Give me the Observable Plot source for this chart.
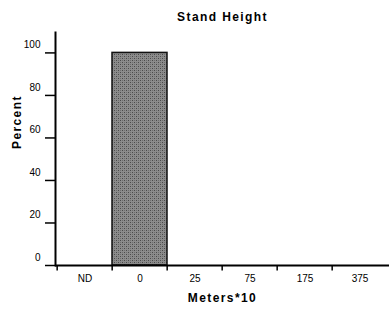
<!DOCTYPE html>
<html><head><meta charset="utf-8">
<script src="https://cdn.jsdelivr.net/npm/d3@7"></script>
<script src="https://cdn.jsdelivr.net/npm/@observablehq/plot@0.6"></script>
<style>
body{margin:0;background:#fff;}
svg{font-family:"Liberation Sans",Arial,sans-serif;}
</style></head>
<body><div id="chart"></div>
<script>
const categories = ["ND","0","25","75","175","375"];
const percents = [0,100,0,0,0,0];
const yTicks = [0,20,40,60,80,100];
const title = "Stand Height";
const xLabel = "Meters*10";
const yLabel = "Percent";

const data = categories.map((c,i)=>({cat:c, pct:percents[i]}));
const W = 389, H = 318, mL = 55, mR = 0;
const bw = (W - mL - mR) / categories.length;

const plot = Plot.plot({
  width: W, height: H,
  marginLeft: mL, marginRight: mR, marginTop: 32, marginBottom: 53,
  style: {fontFamily: "Liberation Sans, Arial, sans-serif", fontSize: "10px", color: "#000", background: "#fff"},
  x: {domain: categories, padding: 0, axis: null},
  y: {domain: [0, 109.6], axis: null},
  marks: [
    Plot.barY(data.filter(d=>d.pct>0), {x: "cat", y: "pct", fill: "url(#dotpat)", stroke: "#111", strokeWidth: 1.5, inset: 0}),
    Plot.axisY({ticks: yTicks, tickSize: 10, tickFormat: () => "", label: null, strokeWidth: 1.5}),
    Plot.axisY({ticks: yTicks, tickSize: 0, tickPadding: 15, dy: -8, label: null, fontSize: 10}),
    Plot.axisX({tickSize: 0, tickPadding: 9, label: null, fontSize: 10}),
    Plot.ruleX(categories, {x: d=>d, y1: 0, y2: -2.6, dx: -bw/2, stroke: "#000", strokeWidth: 1.5}),
    Plot.frame({anchor: "left", stroke: "#000", strokeWidth: 2}),
    Plot.ruleY([0], {stroke: "#000", strokeWidth: 2}),
    Plot.text([title], {frameAnchor: "top", dy: -20, text: d=>d, fontWeight: "bold", fontSize: 12, fill: "#000"}),
    Plot.text([xLabel], {frameAnchor: "bottom", dy: 36, text: d=>d, fontWeight: "bold", fontSize: 12, fill: "#000"}),
    Plot.text([yLabel], {frameAnchor: "left", dx: -38, rotate: -90, text: d=>d, fontWeight: "bold", fontSize: 12, fill: "#000"})
  ]
});

const ns = "http://www.w3.org/2000/svg";
const defs = document.createElementNS(ns, "defs");
defs.innerHTML = '<pattern id="dotpat" width="4" height="4" patternUnits="userSpaceOnUse">' +
  '<rect width="4" height="4" fill="#8c8c8c"/>' +
  '<rect x="0" y="0" width="1" height="1" fill="#4a4a4a"/>' +
  '<rect x="2" y="2" width="1" height="1" fill="#4a4a4a"/>' +
  '<rect x="2" y="0" width="1" height="1" fill="#6e6e6e"/>' +
  '<rect x="0" y="2" width="1" height="1" fill="#6e6e6e"/></pattern>';
plot.insertBefore(defs, plot.firstChild);
plot.querySelectorAll("text").forEach(t=>{
  if (t.textContent === title || t.textContent === xLabel || t.textContent === yLabel) t.setAttribute("letter-spacing", "1.4");
});
document.getElementById("chart").appendChild(plot);
</script></body></html>
